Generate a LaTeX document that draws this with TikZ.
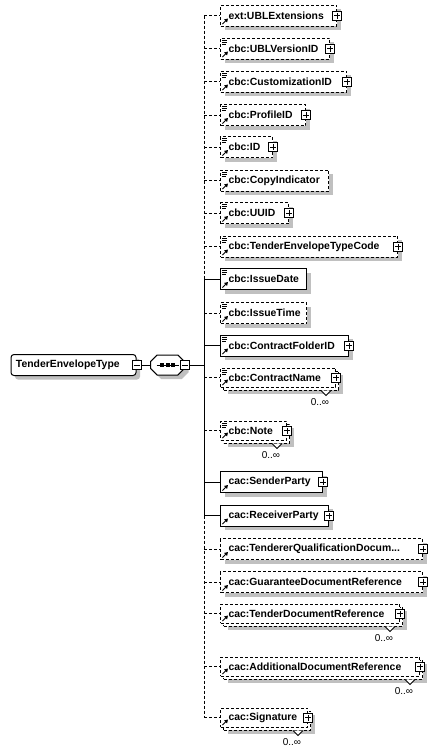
\documentclass[tikz,border=0pt]{standalone}
\usepackage{fontspec}
\setmainfont{Liberation Sans}
\usetikzlibrary{arrows.meta,positioning,calc,shapes.misc,shadows}
\definecolor{xsInk}{HTML}{000000}
\definecolor{xsShade}{HTML}{C0C0C0}
% small glyphs drawn inside the element boxes
\newcommand\xsLines{%
  \draw[solid,line width=0.8pt]
    ([xshift=1.5pt,yshift=-2pt]path picture bounding box.north west) -- ++(5pt,0pt)
    ([xshift=1.5pt,yshift=-4pt]path picture bounding box.north west) -- ++(5pt,0pt)
    ([xshift=1.5pt,yshift=-6pt]path picture bounding box.north west) -- ++(4pt,0pt);}
\newcommand\xsArrow{%
  \draw[solid,line width=1pt,-{Triangle[length=3.5pt,width=4pt]}]
    ([xshift=2pt,yshift=2pt]path picture bounding box.south west) -- ++(5.5pt,5.5pt);}
% second box, chevron and 0..inf under a repeated element
\newcommand\xsMany[1]{%
  \draw[solid,line width=1pt,fill=white] ($(#1.south east)+(-15,3)$) -- ++(5pt,-5pt) -- ++(5pt,5pt);
  \node[mult] (#1M) at ($(#1.south east)+(-16,15)$) {0..∞};}
\tikzset{
  elbase/.style  ={draw=xsInk,line width=1pt,fill=white,anchor=west,align=left,
                   inner xsep=8pt,inner ysep=0pt,
                   font=\fontsize{10.4}{12}\selectfont\bfseries},
  shade/.style   ={general shadow={fill=xsShade,draw=none,shadow xshift=4pt,shadow yshift=-4pt}},
  elreq/.style   ={elbase,shade,minimum height=21pt},
  elopt/.style   ={elbase,shade,minimum height=21pt,dash pattern=on 3pt off 2pt},
  elmany/.style  ={elbase,minimum height=19pt,dash pattern=on 3pt off 2pt,
                   general shadow={fill=xsShade,draw=none,shadow xshift=7pt,shadow yshift=-7pt},
                   general shadow={fill=white,draw=xsInk,line width=1pt,dash pattern=on 3pt off 2pt,
                                   shadow xshift=3pt,shadow yshift=-3pt}},
  refsimple/.style={path picture={\xsLines\xsArrow}},
  refonly/.style ={path picture={\xsArrow}},
  plusbox/.style ={draw=xsInk,fill=white,solid,line width=1pt,minimum size=9pt,inner sep=0pt,
                   path picture={\draw[line width=1pt]
                     ([xshift=-3pt]path picture bounding box.center) -- ([xshift=3pt]path picture bounding box.center)
                     ([yshift=-3pt]path picture bounding box.center) -- ([yshift=3pt]path picture bounding box.center);}},
  minusbox/.style={draw=xsInk,fill=white,solid,line width=1pt,minimum size=9pt,inner sep=0pt,
                   path picture={\draw[line width=1pt]
                     ([xshift=-3pt]path picture bounding box.center) -- ([xshift=3pt]path picture bounding box.center);}},
  mainel/.style  ={draw=xsInk,line width=1pt,fill=white,rounded corners=3pt,shade,
                   minimum height=21pt,text width=115pt,inner xsep=5pt,align=left,
                   font=\fontsize{10.4}{12}\selectfont\bfseries},
  seqbox/.style  ={draw=xsInk,line width=1pt,fill=white,chamfered rectangle,
                   chamfered rectangle xsep=6pt,minimum width=34pt,minimum height=20pt,shade},
  mult/.style    ={font=\fontsize{10}{12}\selectfont,inner sep=0pt},
  lkreq/.style   ={xsInk,line width=1pt},
  lkopt/.style   ={xsInk,line width=1pt,dash pattern=on 3pt off 2pt},
}

\begin{document}
\hyphenpenalty=10000 \exhyphenpenalty=10000
\begin{tikzpicture}[x=1pt,y=-1pt]
\path[use as bounding box,fill=white] (0,0) rectangle (437,753);

\node[mainel] (tet) at (73.5,365) {TenderEnvelopeType};
\node[minusbox] (tetM) at (tet.east) {};
\node[seqbox] (seq) at (167.5,365) {};
\node[minusbox] (seqM) at (seq.east) {};
\coordinate (sp) at (204,365);
% sequence glyph
\draw[lkreq] ([xshift=-11pt]seq.center) -- ([xshift=11pt]seq.center);
\foreach \dx in {-5.5,0,5.5}
  \fill[xsInk] ([xshift=\dx pt]seq.center) +(-2pt,-1.8pt) rectangle +(2pt,1.8pt);

%% children of the sequence
\node[elopt,refonly,text width=100pt]   (uext) at (220,15.5)  {ext:UBLExtensions};
\node[elopt,refsimple,text width=93pt]  (uver) at (220,48.5)  {cbc:UBLVersionID};
\node[elopt,refsimple,text width=110pt] (cust) at (220,81.5)  {cbc:CustomizationID};
\node[elopt,refsimple,text width=69pt]  (prof) at (220,115)   {cbc:ProfileID};
\node[elopt,refsimple,text width=36pt]  (tid)  at (220,147)   {cbc:ID};
\node[elopt,refsimple,text width=92pt]  (copy) at (220,180.5) {cbc:CopyIndicator};
\node[elopt,refsimple,text width=52pt]  (uuid) at (220,213)   {cbc:UUID};
\node[elopt,refsimple,text width=161pt] (ttc)  at (220,246.5) {cbc:TenderEnvelopeTypeCode};
\node[elreq,refsimple,text width=70pt]  (idate) at (220,279)  {cbc:IssueDate};
\node[elopt,refsimple,text width=70pt]  (itime) at (220,313)  {cbc:IssueTime};
\node[elreq,refsimple,text width=112pt] (cfid) at (220,345.5) {cbc:ContractFolderID};
\node[elmany,refsimple,text width=99pt] (cname) at (220,377.5) {cbc:ContractName};
\node[elmany,refsimple,text width=50pt] (note) at (220,430.5) {cbc:Note};
\node[elreq,refonly,text width=86pt]    (sender) at (220,482) {cac:SenderParty};
\node[elreq,refonly,text width=92pt]    (receiver) at (220,515.5) {cac:ReceiverParty};
\node[elopt,refonly,text width=186pt]   (tqdr) at (220,549)   {cac:TendererQualificationDocum...};
\node[elopt,refonly,text width=186pt]   (gdr)  at (220,582)   {cac:GuaranteeDocumentReference};
\node[elmany,refonly,text width=163pt]  (tdr)  at (220,613.5) {cac:TenderDocumentReference};
\node[elmany,refonly,text width=183pt]  (adr)  at (220,666.5) {cac:AdditionalDocumentReference};
\node[elmany,refonly,text width=71pt]   (sig)  at (220,717.5) {cac:Signature};

\foreach \e in {uext,uver,cust,prof,tid,uuid,ttc,cfid,cname,note,sender,receiver,tqdr,gdr,tdr,adr,sig}
  \node[plusbox] (\e P) at (\e.east) {};
\foreach \e in {cname,note,tdr,adr,sig}
  {\xsMany{\e}}

%% connectors
\draw[lkreq] (tetM.east) -- (seq.west);
\draw[lkreq] (seqM.east) -- (sp);
\draw[lkopt] (sp |- uext.west) -- (sp |- idate.west);
\draw[lkreq] (sp |- idate.west) -- (sp |- receiver.west);
\draw[lkopt] (sp |- receiver.west) -- (sp |- sig.west);
\foreach \e in {uext,uver,cust,prof,tid,copy,uuid,ttc,itime,cname,note,tqdr,gdr,tdr,adr,sig}
  \draw[lkopt] (sp |- \e.west) -- (\e.west);
\foreach \e in {idate,cfid,sender,receiver}
  \draw[lkreq] (sp |- \e.west) -- (\e.west);
\end{tikzpicture}
\end{document}
